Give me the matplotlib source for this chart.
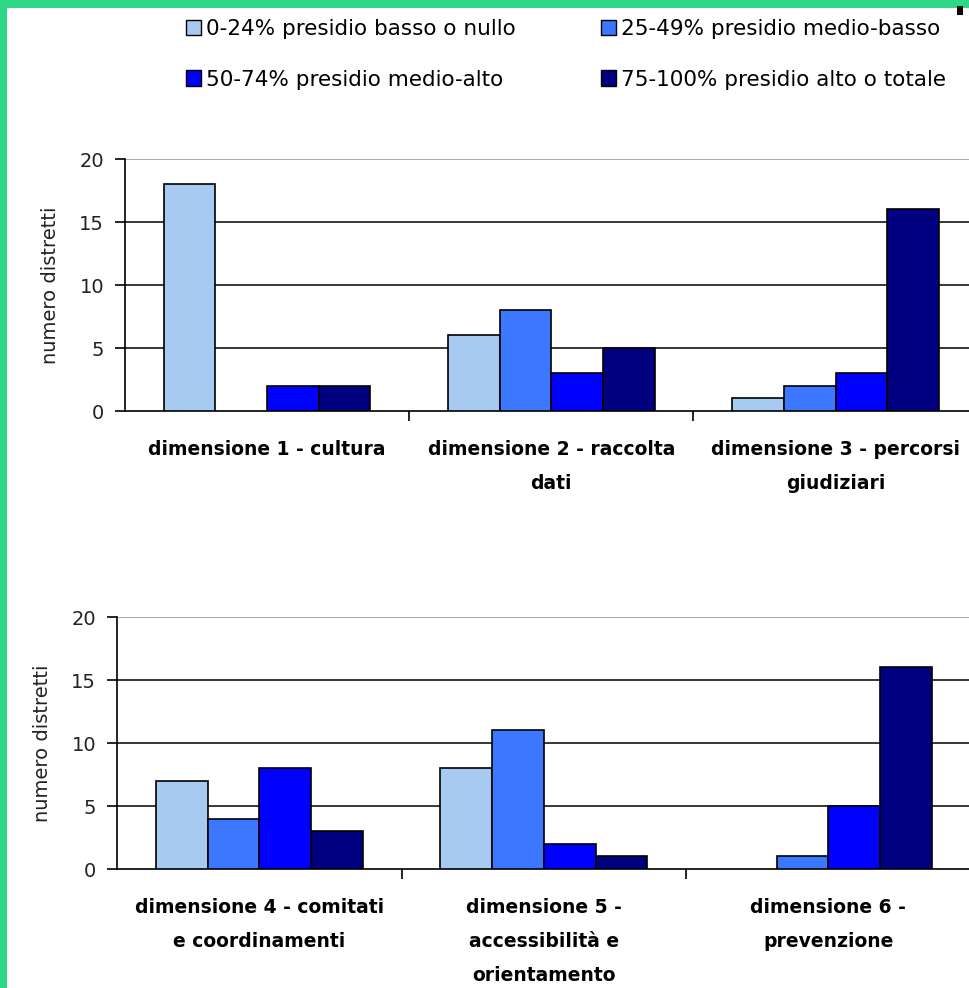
import matplotlib.pyplot as plt
from matplotlib.patches import Rectangle, Patch
import numpy as np

# legend / series
series_labels = ["0-24% presidio basso o nullo", "25-49% presidio medio-basso",
                 "50-74% presidio medio-alto", "75-100% presidio alto o totale"]
colors = ["#A6CAF0", "#3C78FF", "#0000FF", "#000080"]

# top panel
top_categories = ["dimensione 1 - cultura", "dimensione 2 - raccolta\ndati",
                  "dimensione 3 - percorsi\ngiudiziari"]
top_values = [
    [18, 6, 1],    # 0-24%
    [0, 8, 2],     # 25-49%
    [2, 3, 3],     # 50-74%
    [2, 5, 16],    # 75-100%
]

# bottom panel
bottom_categories = ["dimensione 4 - comitati\ne coordinamenti",
                     "dimensione 5 -\naccessibilità e\norientamento",
                     "dimensione 6 -\nprevenzione"]
bottom_values = [
    [7, 8, 0],
    [4, 11, 1],
    [8, 2, 5],
    [3, 1, 16],
]

y_ticks = [0, 5, 10, 15, 20]


def draw_panel(ax, categories, values):
    x = np.arange(len(categories))
    w = 1 / 5.5  # excel gap width 150%
    for i, vals in enumerate(values):
        lw = [1.2 if v > 0 else 0 for v in vals]  # no outline on empty bars
        ax.bar(x + (i - 1.5) * w, vals, width=w, color=colors[i],
               edgecolor="black", linewidth=lw, zorder=3)
    ax.set_xlim(-0.5, len(categories) - 0.5)
    ax.set_ylim(0, 20)
    ax.set_yticks(y_ticks)
    ax.set_yticklabels([str(t) for t in y_ticks], fontsize=14, color="#222222")
    for t in y_ticks[1:-1]:
        ax.axhline(t, color="black", linewidth=1.1, zorder=1)
    ax.axhline(20, color="#999999", linewidth=1.2, zorder=1)
    ax.set_xticks(x)
    ax.set_xticklabels(categories, fontsize=13.5, fontweight="bold",
                       linespacing=2.0, va="top")
    ax.tick_params(axis="x", which="major", length=0, pad=21)
    ax.set_xticks(np.arange(len(categories)) + 0.5, minor=True)
    ax.tick_params(axis="x", which="minor", length=7, direction="out", width=1.2)
    ax.tick_params(axis="y", length=7, width=1.2, pad=8)
    for s in ["top", "right"]:
        ax.spines[s].set_visible(False)
    ax.spines["left"].set_linewidth(1.2)
    ax.spines["bottom"].set_linewidth(1.2)
    ax.set_ylabel("numero distretti", fontsize=14, color="#222222", labelpad=14)


fig = plt.figure(figsize=(9.7, 9.88), dpi=100)

ax1 = fig.add_axes([0.1289, 0.584, 0.879, 0.255])
draw_panel(ax1, top_categories, top_values)

ax2 = fig.add_axes([0.1206, 0.1204, 0.880, 0.2551])
draw_panel(ax2, bottom_categories, bottom_values)

handles = [Patch(facecolor=c, edgecolor="black", linewidth=1) for c in colors]
order = [0, 2, 1, 3]
fig.legend([handles[i] for i in order], [series_labels[i] for i in order],
           ncol=2, loc="upper right", bbox_to_anchor=(0.995, 1.0),
           frameon=False, fontsize=15.5, handlelength=0.7, handleheight=0.7,
           handletextpad=0.2, columnspacing=4.0, labelspacing=1.4)

# frame decoration
fig.patches.append(Rectangle((0, 0), 7 / 970, 1, transform=fig.transFigure,
                             facecolor="#2ED688", edgecolor="none", zorder=10))
fig.patches.append(Rectangle((0, 1 - 8 / 988), 1, 8 / 988, transform=fig.transFigure,
                             facecolor="#2ED688", edgecolor="none", zorder=10))
fig.patches.append(Rectangle((957 / 970, 1 - 15 / 988), 6 / 970, 9 / 988,
                             transform=fig.transFigure, facecolor="black",
                             edgecolor="none", zorder=10))

fig.savefig("out.png", dpi=100)
